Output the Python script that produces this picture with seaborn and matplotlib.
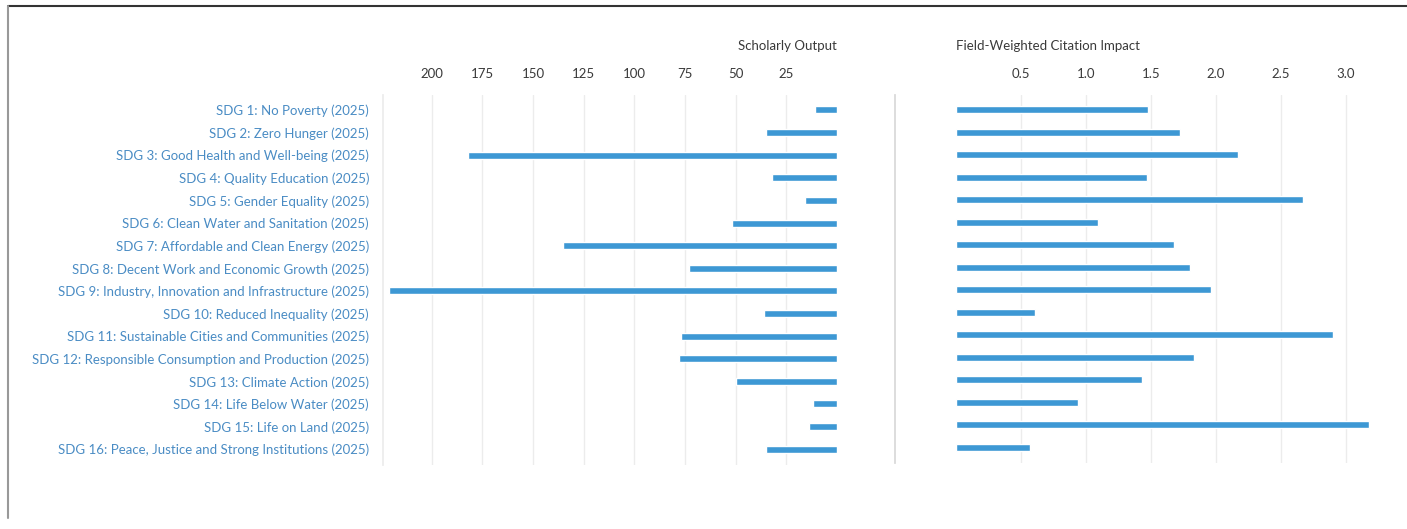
"""
SDG overview: Scholarly Output (left, reversed) and FWCI (right) per SDG
"""
import matplotlib
matplotlib.use('Agg')
import pandas as pd
import matplotlib.pyplot as plt
import matplotlib.transforms as mtransforms
import seaborn as sns

categories = [
    'SDG 1: No Poverty (2025)',
    'SDG 2: Zero Hunger (2025)',
    'SDG 3: Good Health and Well-being (2025)',
    'SDG 4: Quality Education (2025)',
    'SDG 5: Gender Equality (2025)',
    'SDG 6: Clean Water and Sanitation (2025)',
    'SDG 7: Affordable and Clean Energy (2025)',
    'SDG 8: Decent Work and Economic Growth (2025)',
    'SDG 9: Industry, Innovation and Infrastructure (2025)',
    'SDG 10: Reduced Inequality (2025)',
    'SDG 11: Sustainable Cities and Communities (2025)',
    'SDG 12: Responsible Consumption and Production (2025)',
    'SDG 13: Climate Action (2025)',
    'SDG 14: Life Below Water (2025)',
    'SDG 15: Life on Land (2025)',
    'SDG 16: Peace, Justice and Strong Institutions (2025)',
]
scholarly_output = [11, 35, 182, 32, 16, 52, 135, 73, 221, 36, 77, 78, 50, 12, 14, 35]
fwci = [1.48, 1.72, 2.17, 1.47, 2.67, 1.09, 1.68, 1.80, 1.96, 0.61,
        2.90, 1.83, 1.43, 0.94, 3.18, 0.57]
output_ticks = [25, 50, 75, 100, 125, 150, 175, 200]
fwci_ticks = [0.5, 1.0, 1.5, 2.0, 2.5, 3.0]

BAR_COLOR = '#3d98d4'
LABEL_COLOR = '#4a8cc4'
TEXT_COLOR = '#3a3a3a'
GRID_COLOR = '#ececec'

W, H = 1407, 529

sns.set_theme(style='white')
plt.rcParams['font.family'] = ['Lato', 'DejaVu Sans']

df = pd.DataFrame({'SDG': categories, 'Output': scholarly_output, 'FWCI': fwci})


def px_axes(fig, left, top, right, bottom):
    return fig.add_axes([left / W, 1 - bottom / H, (right - left) / W, (bottom - top) / H])


def style_axis(ax, ticks, labels):
    ax.set_xticks(ticks)
    ax.set_xticklabels(labels)
    ax.xaxis.tick_top()
    ax.tick_params(axis='x', length=0, pad=11, labelsize=9.5, labelcolor=TEXT_COLOR)
    ax.grid(axis='x', color=GRID_COLOR, linewidth=1)
    ax.set_axisbelow(True)
    ax.set_xlabel('')
    ax.set_ylabel('')
    for side in ['top', 'right', 'bottom']:
        ax.spines[side].set_visible(False)
    ax.set_ylim(15.7, -0.66)


fig = plt.figure(figsize=(W / 100, H / 100), dpi=100)

# left panel: scholarly output, bars grow to the left
ax1 = px_axes(fig, 383, 95, 837, 465)
sns.barplot(data=df, y='SDG', x='Output', orient='h', color=BAR_COLOR,
            width=0.31, saturation=1, ax=ax1)
ax1.set_xlim(224, 0)
style_axis(ax1, output_ticks, [str(t) for t in output_ticks])
ax1.spines['left'].set_color(GRID_COLOR)
ax1.tick_params(axis='y', length=0, pad=10, labelsize=9.5, labelcolor=LABEL_COLOR)
ax1.text(1.0, 1.132, 'Scholarly Output', transform=ax1.transAxes,
         ha='right', va='center', fontsize=9.5, color=TEXT_COLOR)

# right panel: field-weighted citation impact
ax2 = px_axes(fig, 895, 95, 1372, 463)
sns.barplot(data=df, y='SDG', x='FWCI', orient='h', color=BAR_COLOR,
            width=0.31, saturation=1, ax=ax2)
ax2.set_xlim(-0.47, 3.2)
style_axis(ax2, fwci_ticks, [f'{t:.1f}' for t in fwci_ticks])
ax2.spines['left'].set_color('#d8d8d8')
ax2.set_yticks([])
blend = mtransforms.blended_transform_factory(ax2.transData, ax2.transAxes)
ax2.text(0.0, 1.132, 'Field-Weighted Citation Impact', transform=blend,
         ha='left', va='center', fontsize=9.5, color=TEXT_COLOR)

# outer frame lines (top and left)
fig.add_artist(plt.Line2D([8 / W, 1], [1 - 6 / H, 1 - 6 / H], color='#333333', linewidth=1.5))
fig.add_artist(plt.Line2D([8 / W, 8 / W], [1 - 6 / H, 0.02], color='#999999', linewidth=1.5))

fig.savefig('out.png', dpi=100, facecolor='white')
